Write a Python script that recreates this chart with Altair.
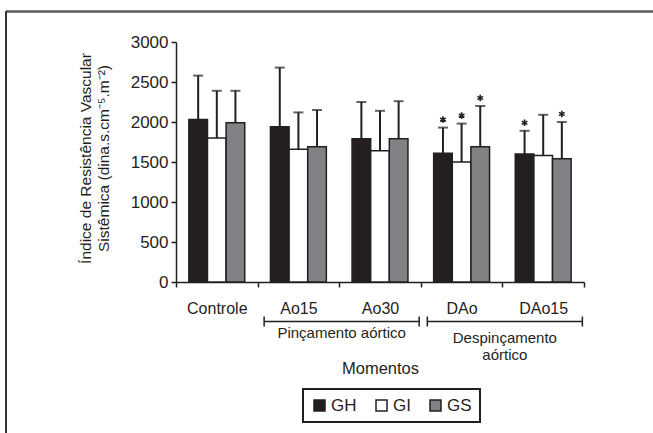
import altair as alt
import pandas as pd

# Moments of measurement and groups
moments = ["Controle", "Ao15", "Ao30", "DAo", "DAo15"]
groups = ["GH", "GI", "GS"]

# Mean and standard deviation of the systemic vascular resistance index
gh_mean = [2030, 1940, 1790, 1610, 1600]
gh_sd = [550, 740, 460, 320, 290]
gi_mean = [1800, 1660, 1640, 1500, 1580]
gi_sd = [590, 460, 500, 480, 510]
gs_mean = [1990, 1690, 1790, 1690, 1540]
gs_sd = [400, 460, 470, 510, 460]

# Significant difference versus Controle (asterisk)
gh_sig = [False, False, False, True, True]
gi_sig = [False, False, False, True, False]
gs_sig = [False, False, False, True, True]

# Y axis ticks
y_ticks = [0, 500, 1000, 1500, 2000, 2500, 3000]

# Surgical phases grouping the moments
phase_names = ["Pinçamento aórtico", "Despinçamento\naórtico"]
phase_first = ["Ao15", "DAo"]
phase_last = ["Ao30", "DAo15"]

INK = "#231f20"
FONT = "Liberation Sans"
GROUP_COLORS = [INK, "#ffffff", "#808285"]
ASTERISK = ("M0,-1L0,1M-0.87,-0.5L0.87,0.5M-0.87,0.5L0.87,-0.5")

rows = []
for g, means, sds, sigs in [("GH", gh_mean, gh_sd, gh_sig),
                            ("GI", gi_mean, gi_sd, gi_sig),
                            ("GS", gs_mean, gs_sd, gs_sig)]:
    for m, mu, sd, s in zip(moments, means, sds, sigs):
        rows.append({"moment": m, "group": g, "mean": mu,
                     "upper": mu + sd, "sig": s})
df = pd.DataFrame(rows)

x_scale = alt.Scale(paddingInner=0, paddingOuter=0)
x_plain = alt.X("moment:N", sort=moments, scale=x_scale)
x_main = alt.X("moment:N", sort=moments, scale=x_scale, title="Momentos",
               axis=alt.Axis(labelAngle=0, tickBand="extent", tickSize=5,
                             labelPadding=13, labelFontSize=16,
                             titleFontSize=16.5, titleFont=FONT,
                             titleFontWeight="normal", titleColor=INK,
                             titleBaseline="alphabetic", titleY=91))
xo_enc = alt.XOffset("group:N", sort=groups,
                     scale=alt.Scale(paddingInner=0, paddingOuter=0.69))

y_scale = alt.Scale(domain=[0, 3000], nice=False)
y_title = ["Índice de Resistência Vascular", "Sistêmica (dina.s.cm⁻⁵.m⁻²)"]
y_axis = alt.Axis(values=y_ticks, format="d", labelOverlap=False,
                  tickSize=5, labelPadding=3, labelFontSize=17,
                  titleFontSize=15.5, titleFont=FONT,
                  titleFontWeight="normal", titleColor=INK,
                  titleAngle=270, titleBaseline="middle",
                  titleAlign="center", titleLineHeight=18,
                  titleX=-91, titleY=116)


def y_enc(field):
    return alt.Y(field, type="quantitative", scale=y_scale,
                 title=y_title, axis=y_axis)


base = alt.Chart(df)

bars = base.mark_bar(stroke=INK, strokeWidth=1.5).encode(
    x=x_main,
    xOffset=xo_enc,
    y=y_enc("mean"),
    fill=alt.Fill("group:N", scale=alt.Scale(domain=groups, range=GROUP_COLORS),
                  legend=alt.Legend(orient="none", direction="horizontal",
                                    legendX=127, legendY=347, title=None,
                                    symbolType="square", symbolSize=121,
                                    symbolStrokeColor=INK, symbolStrokeWidth=1.5,
                                    symbolOpacity=1, labelFontSize=17,
                                    labelFont=FONT, labelColor=INK,
                                    labelOffset=3, columnPadding=16,
                                    padding=8, strokeColor=INK)),
)

err = base.mark_rule(color=INK, strokeWidth=2).encode(
    x=x_plain, xOffset=xo_enc, y=y_enc("mean"), y2="upper:Q")

caps = base.mark_tick(color=INK, thickness=2, size=10).encode(
    x=x_plain, xOffset=xo_enc, y=y_enc("upper"))

# Significance asterisks drawn just above the error-bar caps
stars = base.transform_filter("datum.sig").mark_point(
    shape=ASTERISK, size=42, filled=False, stroke=INK, strokeWidth=1.6,
    opacity=1
).encode(x=x_plain, xOffset=xo_enc, y=y_enc("upper"),
         yOffset=alt.value(-8))

# Brackets under the category labels, in category units
phase_df = pd.DataFrame({
    "phase": phase_names,
    "start": [moments.index(a) + 0.08 for a in phase_first],
    "end": [moments.index(b) + 0.98 for b in phase_last],
})
phase_df["mid"] = (phase_df["start"] + phase_df["end"]) / 2
phase_df["row"] = list(range(len(phase_names)))
cat_scale = alt.Scale(domain=[0, len(moments)], nice=False, zero=False)
pbase = alt.Chart(phase_df)

bracket = pbase.mark_rule(color=INK, strokeWidth=1.5).encode(
    x=alt.X("start:Q", scale=cat_scale, axis=None), x2="end:Q",
    y=alt.value(279.5))
cap_l = pbase.mark_rule(color=INK, strokeWidth=1.5).encode(
    x=alt.X("start:Q", scale=cat_scale, axis=None),
    y=alt.value(274.5), y2=alt.value(284.5))
cap_r = pbase.mark_rule(color=INK, strokeWidth=1.5).encode(
    x=alt.X("end:Q", scale=cat_scale, axis=None),
    y=alt.value(274.5), y2=alt.value(284.5))
label_1 = pbase.transform_filter("datum.row == 0").mark_text(
    fontSize=15, font=FONT, baseline="top", lineBreak="\n"
).encode(x=alt.X("mid:Q", scale=cat_scale, axis=None),
         y=alt.value(283.5), text="phase:N", color=alt.value(INK))
label_2 = pbase.transform_filter("datum.row == 1").mark_text(
    fontSize=15, font=FONT, baseline="top", lineBreak="\n", lineHeight=17
).encode(x=alt.X("mid:Q", scale=cat_scale, axis=None),
         y=alt.value(289), text="phase:N", color=alt.value(INK))

# Outer frame of the figure
frame_top = pbase.mark_rule(color="#5a5a5a", strokeWidth=2).encode(
    x=alt.value(-170), x2=alt.value(477), y=alt.value(-30.5))
frame_left = pbase.mark_rule(color="#333333", strokeWidth=2).encode(
    x=alt.value(-170), y=alt.value(-30.5), y2=alt.value(391))

main = alt.layer(bars, err, caps, stars)
notes = alt.layer(bracket, cap_l, cap_r, label_1, label_2, frame_top, frame_left)

chart = alt.layer(main, notes).resolve_scale(x="independent").properties(
    width=408, height=240,
    autosize=alt.AutoSizeParams(type="none"),
    padding={"left": 176, "top": 42, "right": 69, "bottom": 151},
).configure_view(stroke=None).configure_axis(
    grid=False, labelFont=FONT, labelColor=INK, domainColor=INK,
    domainWidth=1.5, tickColor=INK, tickWidth=1.5
).configure_axisY(labelOverlap=False).configure_legend(strokeWidth=2)

chart.save("out.html", embed_options={"renderer": "svg", "actions": False})
